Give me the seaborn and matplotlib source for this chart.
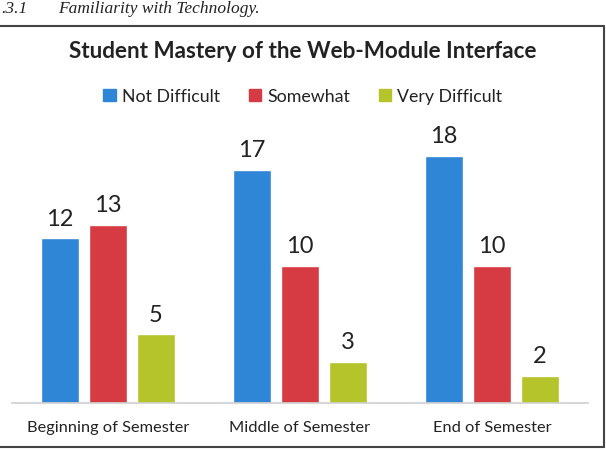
import matplotlib
matplotlib.use("Agg")
import matplotlib.pyplot as plt
import seaborn as sns
import pandas as pd
from matplotlib.lines import Line2D

periods = ["Beginning of Semester", "Middle of Semester", "End of Semester"]
levels = ["Not Difficult", "Somewhat", "Very Difficult"]
not_difficult = [12, 17, 18]
somewhat = [13, 10, 10]
very_difficult = [5, 3, 2]
colors = ["#2F86D6", "#D63B43", "#B4C42A"]

rows = []
for lvl, vals in zip(levels, [not_difficult, somewhat, very_difficult]):
    for p, v in zip(periods, vals):
        rows.append({"Period": p, "Level": lvl, "Count": v})
df = pd.DataFrame(rows)

sns.set_theme(style="white")
plt.rcParams["font.family"] = ["Lato", "DejaVu Sans"]

fig = plt.figure(figsize=(6.06, 4.52), dpi=100)
ax = fig.add_axes([12/606, 48/452, 576/606, 274.4/452])

sns.barplot(data=df, x="Period", y="Count", hue="Level", order=periods,
            hue_order=levels, palette=colors, width=0.747, gap=0.2,
            saturation=1, ax=ax, legend=False)

ax.set_xlim(-0.5, 2.5)
ax.set_ylim(0, 20)
ax.set_yticks([])
ax.set_xlabel("")
ax.set_ylabel("")
for s in ["top", "right", "left"]:
    ax.spines[s].set_visible(False)
ax.spines["bottom"].set_color("#D0D0D0")
ax.spines["bottom"].set_linewidth(1.2)
ax.tick_params(axis="x", length=0, pad=12, labelsize=11.8, colors="#222222")

for cont in ax.containers:
    ax.bar_label(cont, padding=7, fontsize=17, color="#222222")

handles = [plt.Rectangle((0, 0), 1, 1, color=c) for c in colors]
fig.legend(handles, levels, loc="center", bbox_to_anchor=(0.5, 1 - 97/452),
           ncol=3, frameon=False, fontsize=12.8, handlelength=0.7,
           handleheight=0.7, handletextpad=0.35, columnspacing=1.6,
           labelcolor="#222222")

fig.text(0.5, 1 - 51/452, "Student Mastery of the Web-Module Interface",
         ha="center", va="center", fontsize=16.2, fontweight="bold",
         color="#222222")

serif = ["Liberation Serif", "DejaVu Serif"]
fig.text(1/606, 1 - 9/452, ".3.1", ha="left", va="center", fontsize=12.5,
         style="italic", family=serif, color="#222222")
fig.text(58/606, 1 - 9/452, "Familiarity with Technology.", ha="left",
         va="center", fontsize=12.5, style="italic", family=serif,
         color="#222222")

frame_c = "#444444"
fig.add_artist(Line2D([0, 604/606], [1 - 27/452, 1 - 27/452],
                      transform=fig.transFigure, color=frame_c, lw=1.5))
fig.add_artist(Line2D([604/606, 604/606], [1 - 27/452, 1 - 448/452],
                      transform=fig.transFigure, color=frame_c, lw=1.5))
fig.add_artist(Line2D([0, 604/606], [1 - 448/452, 1 - 448/452],
                      transform=fig.transFigure, color=frame_c, lw=1.5))

fig.savefig("out.png", dpi=100)
